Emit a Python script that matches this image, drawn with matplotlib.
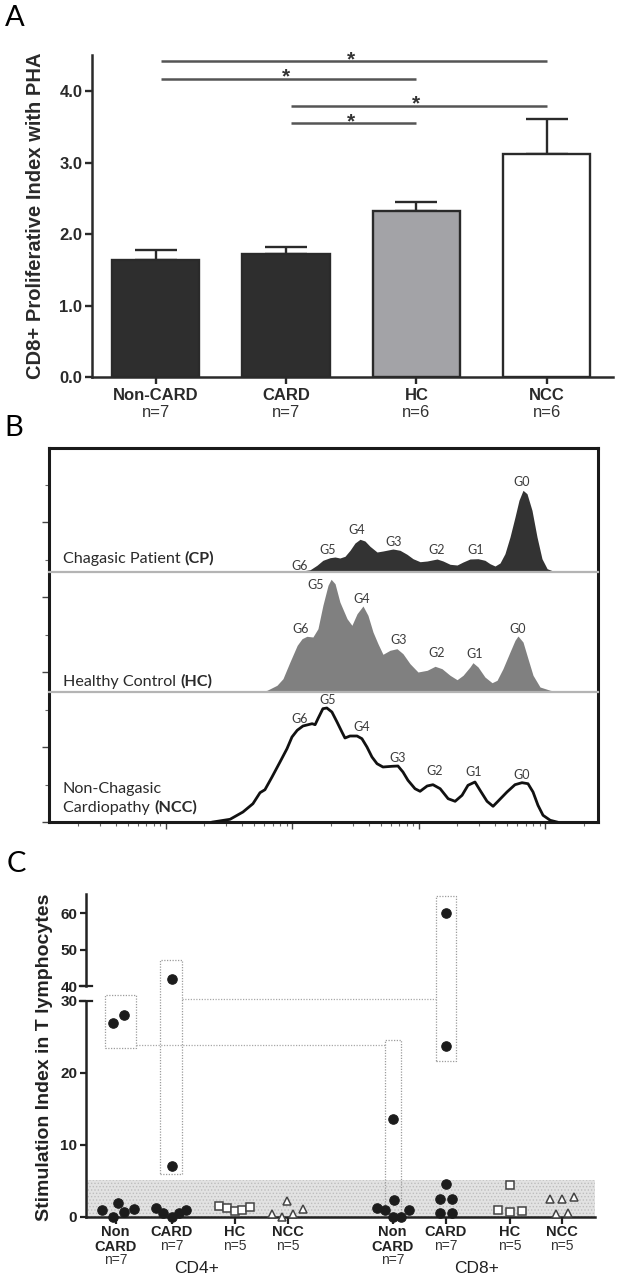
#!/usr/bin/env python3
"""Redraw the three-panel proliferation figure: bar chart, CFSE histograms, stimulation index."""

import matplotlib
matplotlib.use("Agg")
import matplotlib.pyplot as plt
import numpy as np
from matplotlib.patches import Rectangle
from matplotlib.ticker import LogLocator, MultipleLocator, NullFormatter, NullLocator


# ---- panel A: CD8+ proliferative index with PHA ----
A_GROUPS = ["Non-CARD", "CARD", "HC", "NCC"]
A_N = ["n=7", "n=7", "n=6", "n=6"]
A_MEAN = [1.64, 1.72, 2.32, 3.12]
A_SEM = [0.14, 0.10, 0.13, 0.49]
A_COLORS = ["#2e2e2e", "#2e2e2e", "#a3a3a7", "#ffffff"]
A_PAIRS = [(0, 3), (0, 2), (1, 3), (1, 2)]
A_PAIR_LEVEL = [4.42, 4.18, 3.80, 3.56]

# ---- panel B: CFSE dilution histograms (fluorescence, events) ----
CP_FL = [84.1, 115, 138, 156, 174, 198, 217, 237, 260, 285, 312, 342, 374, 410,
         466, 519, 623, 708, 804, 897, 1020, 1160, 1390, 1550, 1760, 2000, 2230,
         2530, 2930, 3320, 3640, 3990, 4370, 4780, 5240, 5740, 6170, 6640, 7140,
         7820, 8570, 9380, 10300, 11500, 13000]
CP_COUNT = [0, 0.7, 2.3, 6.7, 11.7, 14.3, 15, 14, 15.7, 21.7, 29, 32.7, 31, 25.7,
            20, 21, 23, 21.7, 17.7, 13.3, 10.3, 11, 13, 11, 7.7, 7, 10, 13, 13.3,
            11.7, 8.3, 6, 9, 18.3, 35, 55, 71.7, 81.7, 78.3, 61.7, 35, 13.3, 3.3,
            1, 0]
HC_FL = [52.4, 62.9, 75.4, 84.1, 95.5, 109, 119, 130, 145, 159, 174, 191, 202,
         217, 237, 270, 295, 324, 361, 395, 433, 474, 519, 590, 670, 747, 849,
         982, 1160, 1340, 1520, 1760, 2000, 2230, 2530, 2670, 2930, 3320, 3780,
         4140, 4610, 5240, 5740, 6060, 6640, 7270, 7970, 9050, 10900, 13000]
HC_COUNT = [0, 1.7, 6.7, 13.3, 30, 46.7, 53.3, 55.7, 55, 63.3, 86.7, 106.7, 112.7,
            108.3, 90, 73.3, 66.7, 78.3, 86, 76.7, 60, 48.3, 37.7, 41.7, 43.3,
            38.3, 28.3, 20, 21.7, 25.7, 23.3, 16.7, 12.3, 16.7, 25, 29.3, 25, 15,
            9.3, 11.7, 23.3, 40, 51.7, 56, 50, 33.3, 16.7, 5, 1.7, 0]
NCC_FL = [23.5, 32.1, 40.6, 48.7, 55.4, 60.6, 68.9, 79.7, 90.5, 99.1, 109, 121,
          133, 143, 151, 159, 174, 187, 205, 225, 246, 260, 285, 324, 354, 388,
          425, 466, 519, 612, 682, 747, 818, 930, 1020, 1160, 1290, 1470, 1700,
          1930, 2190, 2440, 2770, 3040, 3450, 3850, 4210, 4960, 5740, 6520, 7270,
          7970, 8720, 9560, 10900, 12300]
NCC_COUNT = [0, 2.7, 10, 18.3, 29.3, 32.3, 45, 60, 73.3, 85, 91.7, 96, 97.3, 98.3,
             97.3, 103.3, 113.3, 114, 110, 100, 90, 84, 86, 86, 83.3, 75, 65, 58.3,
             55, 55.7, 56, 50, 41.7, 33.3, 30.7, 36, 37.3, 33.3, 23.3, 20.7, 26.7,
             36.7, 40, 31.7, 20.7, 15.7, 20.7, 30, 37.3, 39.3, 38.3, 30, 16.7, 6.7,
             1.7, 0]
GEN_LABELS = ["G0", "G1", "G2", "G3", "G4", "G5", "G6"]
# where each generation label sits (fluorescence, events)
CP_GEN_AT = [(6520, 90), (2820, 22), (1390, 22), (634, 30), (324, 42), (191, 22), (113, 6)]
HC_GEN_AT = [(6060, 63), (2770, 38), (1390, 39), (695, 52), (354, 93), (153, 107), (115, 63)]
NCC_GEN_AT = [(6520, 47), (2720, 50), (1340, 51), (682, 64), (354, 95), (191, 122), (113, 103)]

# ---- panel C: stimulation index in T lymphocytes ----
C_GROUPS = ["Non\nCARD", "CARD", "HC", "NCC"]
C_N = ["n=7", "n=7", "n=5", "n=5"]
CD4_NONCARD = [27.0, 28.0, 0.9, 0.0, 1.95, 0.7, 1.05]
CD4_CARD = [42.0, 7.1, 1.25, 0.55, 0.0, 0.55, 0.95]
CD4_HC = [1.55, 1.25, 0.8, 0.9, 1.4]
CD4_NCC = [0.4, 0.0, 2.25, 0.4, 1.1]
CD8_NONCARD = [13.6, 1.15, 0.95, 0.0, 2.35, 0.0, 1.0]
CD8_CARD = [60.0, 23.8, 4.55, 2.4, 2.4, 0.55, 0.55]
CD8_HC = [4.4, 1.0, 0.6, 0.8]
CD8_NCC = [2.4, 2.4, 2.7, 0.35, 0.55]
NORMAL_BAND = 5.1

# layout only: horizontal scatter of the dots inside each column
CD4_NONCARD_DX = [-0.3, 0.86, -1.4, -0.24, 0.26, 0.83, 1.86]
CD4_CARD_DX = [0, 0, -1.6, -0.84, 0, 0.76, 1.43]
CD4_HC_DX = [-1.54, -0.8, 0.03, 0.76, 1.53]
CD4_NCC_DX = [-1.6, -0.54, -0.1, 0.5, 1.56]
CD8_NONCARD_DX = [0.03, -1.57, -0.74, 0.03, 0.1, 0.83, 1.6]
CD8_CARD_DX = [0, 0, 0, -0.55, 0.6, -0.55, 0.6]
CD8_HC_DX = [0, -1.2, 0, 1.2]
CD8_NCC_DX = [-1.14, 0, 1.2, -0.54, 0.6]
C_POS = [3.0, 8.6, 14.9, 20.2, 30.7, 36.0, 42.4, 47.6]

W, H = 617, 1281
SANS = ["Liberation Sans", "DejaVu Sans"]
SOFT = ["Lato", "DejaVu Sans"]


def px_axes(fig, left, top, right, bottom):
    return fig.add_axes([left / W, 1 - bottom / H, (right - left) / W,
                         (bottom - top) / H])


def main():
    plt.rcParams["font.family"] = SANS
    plt.rcParams["hatch.linewidth"] = 0.6
    fig = plt.figure(figsize=(W / 100, H / 100), dpi=100)

    draw_panel_a(fig)
    draw_panel_b(fig)
    draw_panel_c(fig)

    for letter, (x, y) in zip("ABC", [(15, 18), (14, 428), (16, 864)]):
        fig.text(x / W, 1 - y / H, letter, fontsize=21, family=SOFT,
                 ha="center", va="center")
    fig.savefig("out.png", dpi=100)


def draw_panel_a(fig):
    ax = px_axes(fig, 92, 55, 612.6, 377)
    x = np.arange(len(A_GROUPS))
    ax.errorbar(x, A_MEAN, yerr=[np.zeros(len(x)), A_SEM], fmt="none",
                ecolor="#2a2a2a", elinewidth=1.7, capsize=15, capthick=1.7,
                zorder=1)
    ax.bar(x, A_MEAN, width=0.67, color=A_COLORS, edgecolor="#2a2a2a",
           linewidth=1.7, zorder=2)
    for (i, j), level in zip(A_PAIRS, A_PAIR_LEVEL):
        ax.plot([i + 0.04, j], [level, level], color="#555555", lw=1.8,
                solid_capstyle="butt", clip_on=False)
        ax.annotate("*", xy=((i + j) / 2, level), xytext=(0, -3),
                    textcoords="offset points", ha="center", va="baseline",
                    fontsize=15, fontweight="bold", color="#333333")
    ax.set_xlim(-0.49, 3.507)
    ax.set_ylim(0, 4.51)
    ax.set_yticks([0, 1, 2, 3, 4])
    ax.set_yticklabels(["0.0", "1.0", "2.0", "3.0", "4.0"], fontsize=12,
                       fontweight="bold", color="#2a2a2a")
    ax.set_xticks(x)
    ax.set_xticklabels([])
    ax.tick_params(length=5, width=1.7, color="#2a2a2a", pad=2)
    for side in ["top", "right"]:
        ax.spines[side].set_visible(False)
    for side in ["left", "bottom"]:
        ax.spines[side].set_linewidth(1.8)
        ax.spines[side].set_color("#2a2a2a")
    for xi, name, n in zip(x, A_GROUPS, A_N):
        ax.annotate(name, xy=(xi, 0), xycoords=("data", "axes fraction"),
                    xytext=(0, -13), textcoords="offset points", ha="center",
                    va="center", fontsize=12, fontweight="bold", color="#2a2a2a")
        ax.annotate(n, xy=(xi, 0), xycoords=("data", "axes fraction"),
                    xytext=(0, -25.5), textcoords="offset points", ha="center",
                    va="center", fontsize=12, color="#333333")
    fig.text(35.6 / W, 1 - 216 / H, "CD8+ Proliferative Index with PHA",
             rotation=90, ha="center", va="center", fontsize=14.5,
             fontweight="bold", color="#2a2a2a")


def draw_panel_b(fig):
    xlim = (1.19, 26000)
    frame = px_axes(fig, 49, 448, 598, 822)
    frame.set_xscale("log")
    frame.set_xlim(*xlim)
    frame.set_ylim(0, 374 / 75)
    frame.xaxis.set_major_locator(LogLocator(base=10))
    frame.xaxis.set_minor_locator(LogLocator(base=10, subs=np.arange(2, 10)))
    frame.xaxis.set_major_formatter(NullFormatter())
    frame.xaxis.set_minor_formatter(NullFormatter())
    frame.yaxis.set_major_locator(MultipleLocator(1))
    frame.yaxis.set_minor_locator(MultipleLocator(0.5))
    frame.yaxis.set_major_formatter(NullFormatter())
    frame.tick_params(which="major", length=5, width=1.0, color="#444444")
    frame.tick_params(which="minor", length=3, width=0.8, color="#666666")
    for sp in frame.spines.values():
        sp.set_linewidth(2.2)
        sp.set_color("#1a1a1a")

    rows = [
        (448, 572, CP_FL, CP_COUNT, CP_GEN_AT, "fill", "#333333"),
        (572, 692, HC_FL, HC_COUNT, HC_GEN_AT, "fill", "#808080"),
        (692, 822, NCC_FL, NCC_COUNT, NCC_GEN_AT, "line", "#111111"),
    ]
    hist_axes = []
    for top, bottom, fl, count, gen_at, kind, color in rows:
        ax = px_axes(fig, 49, top, 598, bottom)
        ax.set_xscale("log")
        ax.set_xlim(*xlim)
        ax.set_ylim(0, bottom - top)
        ax.patch.set_visible(False)
        ax.xaxis.set_major_locator(NullLocator())
        ax.xaxis.set_minor_locator(NullLocator())
        ax.set_yticks([])
        for side in ["top", "left", "right"]:
            ax.spines[side].set_visible(False)
        if bottom < 822:
            ax.spines["bottom"].set_color("#b4b4b4")
            ax.spines["bottom"].set_linewidth(1.6)
        else:
            ax.spines["bottom"].set_visible(False)
        if kind == "fill":
            ax.fill_between(fl, 0, count, color=color, lw=0)
        else:
            ax.plot(fl, count, color=color, lw=2.0, solid_joinstyle="round")
        for label, (gx, gy) in zip(GEN_LABELS, gen_at):
            ax.text(gx, gy, label, fontsize=9, family=SOFT, color="#3c3c3c",
                    ha="center", va="center")
        hist_axes.append(ax)

    cp_ax, hc_ax, ncc_ax = hist_axes
    sample_label(cp_ax, 0.105, "Chagasic Patient ", "(CP)")
    sample_label(hc_ax, 0.083, "Healthy Control ", "(HC)")
    ncc_ax.text(0.0255, 0.254, "Non-Chagasic", transform=ncc_ax.transAxes,
                fontsize=11.6, family=SOFT, color="#2a2a2a", va="center")
    sample_label(ncc_ax, 0.108, "Cardiopathy ", "(NCC)")


def sample_label(ax, y, plain, bold):
    t = ax.text(0.0255, y, plain, transform=ax.transAxes, fontsize=11.6,
                family=SOFT, color="#2a2a2a", va="center")
    ax.annotate(bold, xy=(1, 0), xycoords=t, va="bottom", ha="left",
                fontsize=11.6, family=SOFT, fontweight="bold", color="#2a2a2a")


def draw_panel_c(fig):
    lo = px_axes(fig, 85.7, 1001, 595, 1216.7)
    up = px_axes(fig, 85.7, 894, 595, 986)
    xlim = (0, 50.93)
    for ax in (lo, up):
        ax.set_xlim(*xlim)
        ax.patch.set_visible(False)
        for side in ["top", "right"]:
            ax.spines[side].set_visible(False)
        for sp in ax.spines.values():
            sp.set_linewidth(1.8)
            sp.set_color("#222222")
        ax.tick_params(length=4, width=1.6, color="#222222", pad=2)
    lo.set_ylim(0, 30)
    up.set_ylim(40, 65.3)
    up.spines["bottom"].set_visible(False)
    up.set_xticks([])
    lo.set_yticks([0, 10, 20, 30])
    up.set_yticks([40, 50, 60])
    for ax in (lo, up):
        for lab in ax.get_yticklabels():
            lab.set_fontsize(11)
            lab.set_fontweight("bold")
            lab.set_color("#222222")
    lo.set_xticks(C_POS)
    lo.set_xticklabels([])
    lo.tick_params(axis="x", length=5)

    # broken-axis marks
    for ax, yy in ((lo, 1), (up, 0)):
        ax.plot([-0.0118, 0.0118], [yy, yy], transform=ax.transAxes,
                color="#222222", lw=1.6, clip_on=False)

    lo.axhspan(0, NORMAL_BAND, xmin=0, xmax=1, facecolor="#e2e2e2",
               edgecolor="#bdbdbd", hatch=".....", lw=0, zorder=0)

    # dotted boxes that link the responders
    dot = dict(fill=False, ls=(0, (1, 1.2)), lw=0.9, ec="#9c9c9c",
               clip_on=False, zorder=1)
    for x0, x1, y0, y1 in [(1.93, 5.03, 23.4, 30.8), (7.43, 9.6, 5.96, 35.7),
                           (29.96, 31.56, 0.47, 24.64),
                           (35.06, 37.06, 21.7, 44.63)]:
        lo.add_patch(Rectangle((x0, y0), x1 - x0, y1 - y0, **dot))
    for x0, x1, yy in [(9.6, 35.06, 30.3), (5.03, 29.96, 23.85)]:
        lo.plot([x0, x1], [yy, yy], color="#a8a8a8", lw=0.9,
                ls=(0, (1, 1.2)), clip_on=False, zorder=1)

    groups = [
        (CD4_NONCARD, CD4_NONCARD_DX, "o"), (CD4_CARD, CD4_CARD_DX, "o"),
        (CD4_HC, CD4_HC_DX, "s"), (CD4_NCC, CD4_NCC_DX, "^"),
        (CD8_NONCARD, CD8_NONCARD_DX, "o"), (CD8_CARD, CD8_CARD_DX, "o"),
        (CD8_HC, CD8_HC_DX, "s"), (CD8_NCC, CD8_NCC_DX, "^"),
    ]
    for pos, (vals, dx, marker) in zip(C_POS, groups):
        if marker == "o":
            style = dict(marker="o", ms=6.8, mfc="#1c1c1c", mec="#1c1c1c", mew=0.8)
        elif marker == "s":
            style = dict(marker="s", ms=5.8, mfc="white", mec="#444444", mew=1.1)
        else:
            style = dict(marker="^", ms=6.4, mfc="white", mec="#444444", mew=1.1)
        for v, d in zip(vals, dx):
            ax = up if v > 35 else lo
            ax.plot(pos + d, v, ls="none", clip_on=False, zorder=4, **style)

    # column labels
    for i, pos in enumerate(C_POS):
        name = C_GROUPS[i % 4]
        n = C_N[i % 4]
        kw = dict(xy=(pos, 0), xycoords=("data", "axes fraction"),
                  textcoords="offset points", ha="center", va="center")
        if "\n" in name:
            first, second = name.split("\n")
            lo.annotate(first, xytext=(0, -10.8), fontsize=10.5,
                        fontweight="bold", color="#222222", **kw)
            lo.annotate(second, xytext=(0, -21.8), fontsize=10.5,
                        fontweight="bold", color="#222222", **kw)
            lo.annotate(n, xytext=(0, -31.2), fontsize=10, color="#333333", **kw)
        else:
            lo.annotate(name, xytext=(0, -10.8), fontsize=10.5,
                        fontweight="bold", color="#222222", **kw)
            lo.annotate(n, xytext=(0, -21), fontsize=10, color="#333333", **kw)
    for xpos, label in [(11.1, "CD4+"), (39.1, "CD8+")]:
        lo.annotate(label, xy=(xpos, 0), xycoords=("data", "axes fraction"),
                    xytext=(0, -37), textcoords="offset points", ha="center",
                    va="center", fontsize=12.5, color="#222222")

    fig.text(45 / W, 1 - 1057 / H, "Stimulation Index in T lymphocytes",
             rotation=90, ha="center", va="center", fontsize=14,
             fontweight="bold", color="#222222")


if __name__ == "__main__":
    main()
